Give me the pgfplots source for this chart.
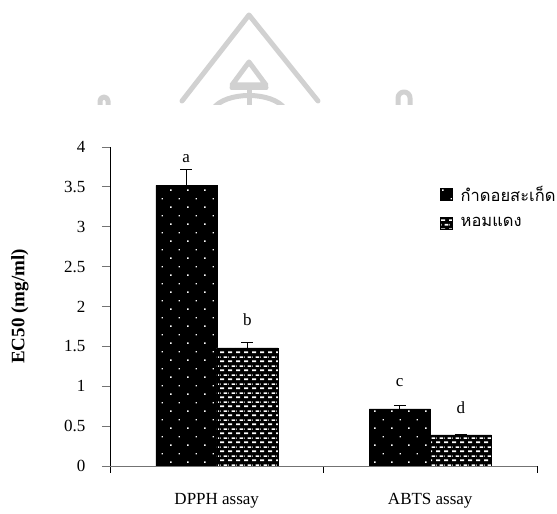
\documentclass[border=0pt]{standalone}
\usepackage{fontspec}
\setmainfont{Liberation Serif}
\newfontfamily\thaifont[Script=Thai]{Loma}
\usepackage{pgfplots}
\pgfplotsset{compat=1.18}
\usepackage{pgfplotstable}
\usetikzlibrary{patterns}

\pgfdeclarepatternformonly{wdots}{\pgfqpoint{-1pt}{-1pt}}{\pgfqpoint{18pt}{18pt}}{\pgfqpoint{17pt}{17pt}}{%
  \pgfpathrectangle{\pgfqpoint{0pt}{0pt}}{\pgfqpoint{1.7pt}{1.7pt}}%
  \pgfpathrectangle{\pgfqpoint{8.5pt}{8.5pt}}{\pgfqpoint{1.4pt}{1.4pt}}%
  \pgfusepath{fill}}
\pgfdeclarepatternformonly{wbricks}{\pgfqpoint{0pt}{0pt}}{\pgfqpoint{7.6pt}{8.6pt}}{\pgfqpoint{7.6pt}{8.6pt}}{%
  \pgfpathrectangle{\pgfqpoint{0pt}{1pt}}{\pgfqpoint{4.4pt}{1.7pt}}%
  \pgfpathrectangle{\pgfqpoint{3.8pt}{5.3pt}}{\pgfqpoint{3.8pt}{1.7pt}}%
  \pgfpathrectangle{\pgfqpoint{0pt}{5.3pt}}{\pgfqpoint{0.6pt}{1.7pt}}%
  \pgfusepath{fill}}

\pgfplotstableread{
x y err lab gap
0.5 3.52 0.20 a 6
1.5 0.715 0.05 c 18
}\kd
\pgfplotstableread{
x y err lab gap
0.5 1.48 0.07 b 17
1.5 0.39 0.01 d 20
}\hd

\begin{document}
\begin{tikzpicture}[x=1pt,y=1pt]
\path[use as bounding box] (0,0) rectangle (557,514);
% faint watermark
\begin{scope}
\clip (0,409) rectangle (557,514);
\begin{scope}[draw=black!18, line width=5pt, line cap=round, line join=round]
\draw (182,413) -- (249,499) -- (318,413);
\draw (232,429) -- (249,452) -- (266,429) -- cycle;
\draw (232,426) -- (266,426);
\draw (213,405) .. controls (225,423) and (273,423) .. (285,405);
\draw (249,424) -- (249,405);
\draw (398,405) -- (398,416) arc (180:0:6) -- (410,405);
\draw (100,405) -- (100,413) arc (180:0:4) -- (108,405);
\end{scope}
\end{scope}
\begin{axis}[
  at={(110pt,48pt)}, anchor=south west,
  scale only axis, width=427pt, height=319pt,
  xmin=0, xmax=2, ymin=0, ymax=4,
  axis lines=left, axis line style={-},
  x axis line style={draw=black!55},
  y axis line style={draw=black},
  tick align=outside,
  ytick={0,0.5,1,1.5,2,2.5,3,3.5,4},
  yticklabels={0,0.5,1,1.5,2,2.5,3,3.5,4},
  y tick style={draw=black!55, line width=0.8pt},
  major tick length=8pt,
  yticklabel style={xshift=-13pt},
  xtick={0.5,1.5},
  xticklabels={DPPH assay, ABTS assay},
  major x tick style={draw=none},
  minor xtick={0,1,2},
  minor x tick style={draw=black, line width=0.8pt},
  minor tick length=7pt,
  xticklabel style={yshift=-16pt},
  every tick label/.append style={font=\fontsize{17}{20}\selectfont},
  /pgf/number format/assume math mode=true,
  ylabel={\textbf{EC50 (mg/ml)}},
  ylabel style={at={(axis description cs:-0.211,0.5)}, anchor=center, font=\fontsize{19}{22}\selectfont},
  ybar=0pt, bar width=61pt,
  legend style={draw=none, fill=none, at={(axis description cs:0.773,0.885)}, anchor=north west,
    font=\thaifont\fontsize{16.5}{20}\selectfont, row sep=11pt, cells={anchor=west}, inner sep=0pt,
    /tikz/every odd column/.append style={column sep=6pt}},
  legend image code/.code={\draw[#1, draw=none] (0pt,-6pt) rectangle (12pt,6pt);},
  point meta=explicit symbolic,
  nodes near coords,
  every node near coord/.append style={font=\fontsize{17}{20}\selectfont, black, anchor=south, inner sep=2pt, yshift=\myerr*79.75pt+\mygap*1pt-2pt},
  visualization depends on={\thisrow{err} \as \myerr},
  visualization depends on={\thisrow{gap} \as \mygap},
  error bars/y dir=plus, error bars/y explicit,
  error bars/error bar style={black, line width=0.9pt},
  error bars/error mark options={rotate=90, mark size=6pt, black, line width=0.9pt},
]
\addplot[fill=black, draw=black, postaction={pattern=wdots, pattern color=white}]
  table[x=x, y=y, y error=err, meta=lab] {\kd};
\addlegendentry{กำดอยสะเก็ด}
\addplot[fill=black, draw=black, postaction={pattern=wbricks, pattern color=white}]
  table[x=x, y=y, y error=err, meta=lab] {\hd};
\addlegendentry{หอมแดง}
\end{axis}
\end{tikzpicture}
\end{document}
